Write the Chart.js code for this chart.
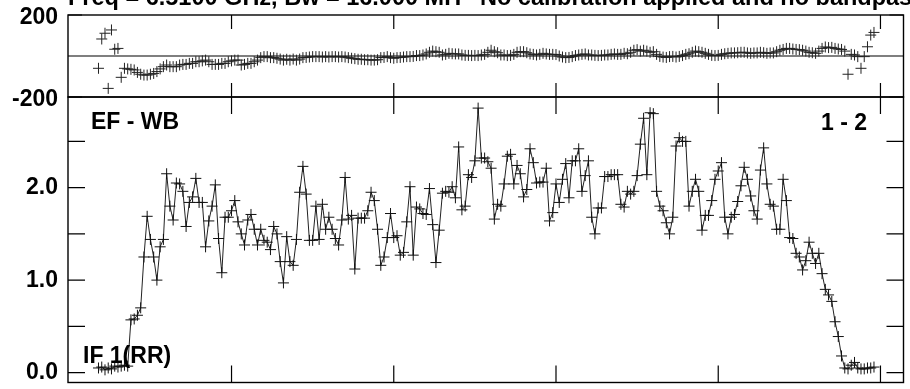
<!DOCTYPE html>
<html><head><meta charset="utf-8">
<script src="https://cdn.jsdelivr.net/npm/chart.js@4/dist/chart.umd.min.js"></script>
<style>
html,body{margin:0;padding:0;background:#fff;}
#wrap{position:relative;width:910px;height:389px;overflow:hidden;background:#fff;}
canvas{position:absolute;left:0;top:0;}
</style></head><body>
<div id="wrap"><canvas id="ph" width="910" height="389"></canvas><canvas id="amp" width="910" height="389"></canvas></div>
<script>
// ---- data (channel numbers, phase in degrees, amplitude) ----
const channels = [
  9,10,11,12,13,14,15,16,17,18, 19,20,21,22,23,24,25,26,27,28,
  29,30,31,32,33,34,35,36,37,38, 39,40,41,42,43,44,45,46,47,48,
  49,50,51,52,53,54,55,56,57,58, 59,60,61,62,63,64,65,66,67,68,
  69,70,71,72,73,74,75,76,77,78, 79,80,81,82,83,84,85,86,87,88,
  89,90,91,92,93,94,95,96,97,98, 99,100,101,102,103,104,105,106,107,108,
  109,110,111,112,113,114,115,116,117,118, 119,120,121,122,123,124,125,126,127,128,
  129,130,131,132,133,134,135,136,137,138, 139,140,141,142,143,144,145,146,147,148,
  149,150,151,152,153,154,155,156,157,158, 159,160,161,162,163,164,165,166,167,168,
  169,170,171,172,173,174,175,176,177,178, 179,180,181,182,183,184,185,186,187,188,
  189,190,191,192,193,194,195,196,197,198, 199,200,201,202,203,204,205,206,207,208,
  209,210,211,212,213,214,215,216,217,218, 219,220,221,222,223,224,225,226,227,228,
  229,230,231,232,233,234,235,236,237,238, 239,240,241,242,243,244,245,246,247,248
];
const phase = [
  -60,83,111,-158,127,33,37,-104,-60,-63,
  -65,-68,-80,-89,-93,-93,-89,-85,-76,-63,
  -52,-44,-52,-52,-52,-44,-41,-41,-36,-36,
  -28,-28,-24,-20,-28,-41,-41,-41,-36,-36,
  -28,-24,-20,-20,-44,-41,-36,-36,-28,-20,
  -8,-3,-3,-8,-8,-11,-15,-20,-16,-20,
  -15,-20,-15,-8,-7,-5,-3,-3,-3,-5,
  -3,-5,-3,-3,-5,-3,-5,-8,-11,-13,
  -16,-16,-18,-18,-20,-20,-18,-8,-7,-3,
  -8,-11,-8,-7,-5,-3,-3,-2,2,2,
  5,10,18,24,21,18,5,8,13,11,
  10,10,5,3,3,2,3,2,5,8,
  18,28,21,16,5,5,2,3,8,18,
  21,21,16,10,8,5,8,13,10,8,
  8,7,0,-5,-8,-7,-3,2,5,8,
  10,5,5,3,2,3,5,5,8,10,
  8,8,13,11,18,28,31,24,28,24,
  18,21,8,-2,-5,-7,-3,-2,-5,-2,
  2,8,11,18,24,21,18,13,8,3,
  2,3,8,11,13,15,15,16,18,18,
  15,13,15,15,18,16,13,15,15,21,
  28,32,37,37,34,32,31,28,24,18,
  16,13,24,37,44,41,42,37,34,32,
  24,-89,8,5,-3,-60,-3,45,102,115
];
const amplitude = [
  0.05,0.06,0.03,0.05,0.04,0.07,0.06,0.07,0.08,0.07,
  0.57,0.58,0.62,0.70,1.25,1.69,1.44,1.25,1.00,1.36,
  1.44,2.15,1.80,1.65,2.05,2.04,1.96,1.58,1.84,1.90,
  2.10,1.84,1.84,1.36,1.64,1.80,2.03,1.45,1.08,1.68,
  1.68,1.75,1.86,1.63,1.50,1.38,1.65,1.71,1.55,1.38,
  1.55,1.43,1.41,1.33,1.58,1.50,1.20,0.97,1.47,1.20,
  1.16,1.44,1.95,2.23,1.93,1.43,1.43,1.80,1.44,1.82,
  1.55,1.68,1.55,1.45,1.38,1.65,2.11,1.66,1.70,1.12,
  1.67,1.67,1.67,1.75,1.95,1.86,1.55,1.16,1.25,1.46,
  1.72,1.46,1.48,1.27,1.30,1.63,2.01,1.27,1.79,1.77,
  1.72,1.71,1.99,1.60,1.19,1.54,1.94,1.96,1.95,2.01,
  1.89,2.44,1.76,1.80,2.14,2.11,2.29,2.86,2.32,2.32,
  2.28,2.21,1.66,1.82,1.80,2.04,2.34,2.36,2.04,2.24,
  2.15,1.90,1.98,2.42,2.27,2.05,2.06,2.06,2.21,1.64,
  1.73,2.04,1.84,2.09,2.26,1.89,2.29,2.29,2.42,1.96,
  2.13,2.29,1.68,1.50,1.78,1.78,2.12,2.12,2.14,2.14,
  2.14,1.82,1.79,1.96,1.93,1.96,2.13,2.47,2.75,2.14,
  2.81,2.80,1.96,1.80,1.75,1.62,1.50,1.68,2.45,2.54,
  2.50,2.50,1.80,1.96,2.09,1.96,1.54,1.70,1.70,1.86,
  2.09,2.18,2.27,1.68,1.50,1.68,1.71,1.85,2.02,2.22,
  2.09,1.91,1.75,1.66,2.19,2.43,2.04,1.82,1.80,1.55,
  1.55,2.09,1.86,1.46,1.45,1.29,1.25,1.11,1.21,1.41,
  1.29,1.18,1.29,1.07,0.90,0.84,0.77,0.55,0.39,0.18,
  0.05,0.04,0.08,0.11,0.05,0.04,0.04,0.05,0.05,0.06
];
const xTickValues = [50, 100, 150, 200, 250];
const phaseTickLabels = [200, -200];
const ampTickLabels = [0, 1, 2];
const ampTickMarks = [0, 0.5, 1, 1.5, 2, 2.5];
const titleLeft = 'Freq = 6.5100 GHz, Bw = 16.000 MH';
const titleRight = 'No calibration applied and no bandpass';
const baselineText = 'EF - WB';
const stokesText = 'IF 1(RR)';
const panelText = '1 - 2';

// ---- drawing helpers ----
const FONT = "'Liberation Sans', Arial, Helvetica, sans-serif";
const framePlugin = {
  id: 'frame',
  beforeDatasetsDraw(chart, args, o) {
    const {ctx, chartArea: a, scales} = chart;
    if (o.zeroLine) {
      const py = scales.y.getPixelForValue(0);
      ctx.save(); ctx.strokeStyle = '#000'; ctx.lineWidth = 1.2;
      ctx.beginPath(); ctx.moveTo(a.left, py); ctx.lineTo(a.right, py); ctx.stroke(); ctx.restore();
    }
  },
  afterDatasetsDraw(chart, args, o) {
    const {ctx, chartArea: a, scales} = chart;
    ctx.save();
    ctx.strokeStyle = '#000';
    ctx.lineWidth = 1.4;
    ctx.strokeRect(a.left, a.top, a.right - a.left, a.bottom - a.top);
    ctx.lineWidth = 1.2;
    ctx.beginPath();
    o.xTicks.forEach(v => {
      const px = scales.x.getPixelForValue(v);
      ctx.moveTo(px, a.top); ctx.lineTo(px, a.top + o.xLen);
      ctx.moveTo(px, a.bottom); ctx.lineTo(px, a.bottom - o.xLen);
    });
    o.yTicks.forEach(v => {
      const py = scales.y.getPixelForValue(v);
      ctx.moveTo(a.left, py); ctx.lineTo(a.left + o.yLen, py);
      ctx.moveTo(a.right, py); ctx.lineTo(a.right - o.yLen, py);
    });
    ctx.stroke();
    ctx.fillStyle = '#000';
    (o.texts || []).forEach(t => {
      ctx.font = 'bold ' + t.size + 'px ' + FONT;
      ctx.textAlign = t.align || 'left';
      ctx.textBaseline = 'alphabetic';
      ctx.fillText(t.text, a.left + t.dx, a.top + t.dy);
    });
    ctx.restore();
  }
};

function yAxis(min, max, labels, labelOffset) {
  return {
    min, max,
    afterFit(s) { s.width = 68; s.paddingTop = 0; s.paddingBottom = 0; },
    afterBuildTicks(s) { s.ticks = labels.map(v => ({value: v})); },
    ticks: {
      font: {family: FONT, size: 23, weight: 'bold'},
      color: '#000', padding: 10, labelOffset,
      callback: (v) => (Math.abs(max) > 10 ? String(v) : Number(v).toFixed(1))
    },
    grid: {display: false, drawTicks: false},
    border: {display: false}
  };
}
const xAxis = {type: 'linear', min: -0.4, max: 257.1, display: false};

const pts = (arr) => channels.map((c, i) => ({x: c, y: arr[i]}));

new Chart(document.getElementById('ph'), {
  type: 'line',
  data: {datasets: [{
    data: pts(phase), showLine: false,
    pointStyle: 'cross', pointRadius: 5.5, pointBorderWidth: 1,
    pointBorderColor: '#222', borderColor: '#222'
  }]},
  options: {
    responsive: false, animation: false, devicePixelRatio: 1,
    layout: {padding: {left: 0, right: 4, top: 15, bottom: 292}},
    scales: {x: xAxis, y: yAxis(-200, 200, phaseTickLabels, 2.5)},
    plugins: {
      legend: {display: false}, tooltip: {enabled: false},
      frame: {
        zeroLine: true, xTicks: xTickValues, xLen: 14, yTicks: phaseTickLabels, yLen: 14,
        texts: [
          {text: titleLeft, dx: 0, dy: -10, size: 23.5},
          {text: titleRight, dx: 412, dy: -10, size: 23.5}
        ]
      }
    }
  },
  plugins: [framePlugin]
});

new Chart(document.getElementById('amp'), {
  type: 'line',
  data: {datasets: [{
    data: pts(amplitude), showLine: true, tension: 0,
    borderColor: '#222', borderWidth: 1,
    pointStyle: 'cross', pointRadius: 5.5, pointBorderWidth: 1,
    pointBorderColor: '#111'
  }]},
  options: {
    responsive: false, animation: false, devicePixelRatio: 1,
    layout: {padding: {left: 0, right: 4, top: 97, bottom: 4}},
    scales: {x: xAxis, y: yAxis(-0.107, 2.98, ampTickLabels, 0.5)},
    plugins: {
      legend: {display: false}, tooltip: {enabled: false},
      frame: {
        zeroLine: false, xTicks: xTickValues, xLen: 17, yTicks: ampTickMarks, yLen: 17,
        texts: [
          {text: baselineText, dx: 23, dy: 32, size: 23},
          {text: panelText, dx: 799, dy: 33, size: 23, align: 'right'},
          {text: stokesText, dx: 15, dy: 266, size: 23}
        ]
      }
    }
  },
  plugins: [framePlugin]
});
</script>
</body></html>
